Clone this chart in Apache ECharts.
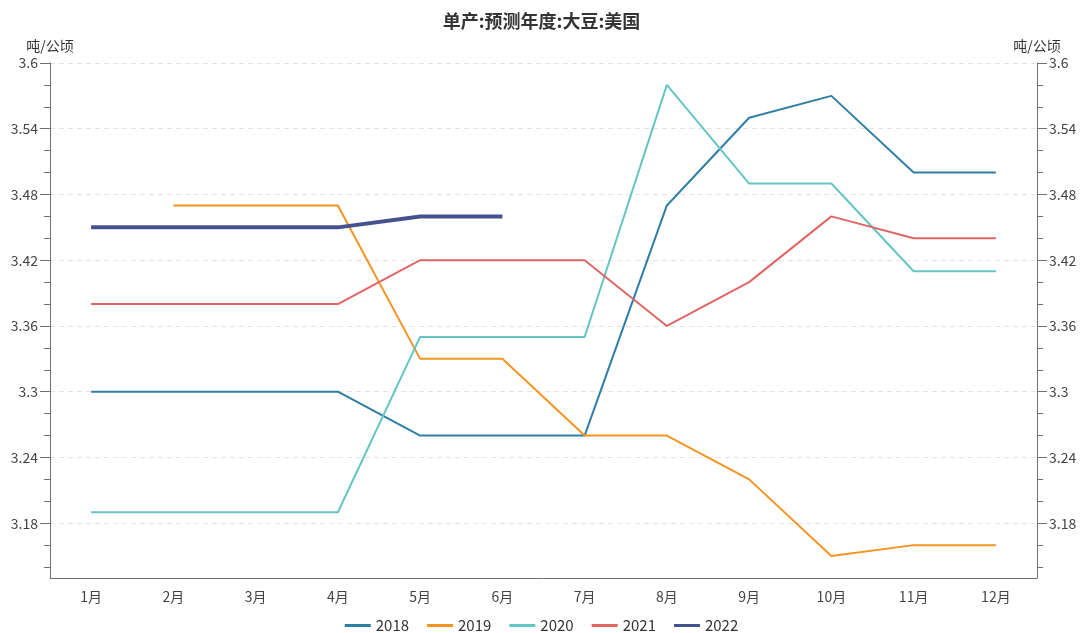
<!DOCTYPE html>
<html><head><meta charset="utf-8">
<script src="https://cdn.jsdelivr.net/npm/echarts@6/dist/echarts.min.js"></script>
<style>html,body{margin:0;padding:0;background:#fff;}#c{width:1083px;height:633px;}</style>
</head><body><div id="c"></div>
<script>
const categories = ['1月','2月','3月','4月','5月','6月','7月','8月','9月','10月','11月','12月'];
const s2018 = [3.30,3.30,3.30,3.30,3.26,3.26,3.26,3.47,3.55,3.57,3.50,3.50];
const s2019 = [null,3.47,3.47,3.47,3.33,3.33,3.26,3.26,3.22,3.15,3.16,3.16];
const s2020 = [3.19,3.19,3.19,3.19,3.35,3.35,3.35,3.58,3.49,3.49,3.41,3.41];
const s2021 = [3.38,3.38,3.38,3.38,3.42,3.42,3.42,3.36,3.40,3.46,3.44,3.44];
const s2022 = [3.45,3.45,3.45,3.45,3.46,3.46];
const labelTicks = [3.18,3.24,3.30,3.36,3.42,3.48,3.54,3.60];
const minorTicks = [3.14,3.16,3.18,3.20,3.22,3.24,3.26,3.28,3.30,3.32,3.34,3.36,3.38,3.40,3.42,3.44,3.46,3.48,3.50,3.52,3.54,3.56,3.58,3.60];
const yMin = 3.13, yMax = 3.6;
const unit = '吨/公顷';

const font = "'Noto Sans CJK SC','Noto Sans',sans-serif";
const axisColor = '#6e7079';
function minorAxis(pos){
  return {type:'value', position:pos, min:yMin, max:yMax,
    axisLine:{show:true, lineStyle:{color:axisColor}},
    axisTick:{show:true, length:6, customValues:minorTicks, lineStyle:{color:axisColor}},
    axisLabel:{show:false}, splitLine:{show:false}};
}
function majorAxis(pos, split){
  return {type:'value', position:pos, min:yMin, max:yMax,
    name:unit, nameGap:10,
    nameTextStyle:{color:'#333', fontSize:14, fontFamily:font, align:'center'},
    axisLine:{show:false},
    axisTick:{show:true, length:10, customValues:labelTicks, lineStyle:{color:axisColor}},
    axisLabel:{show:true, customValues:labelTicks, color:'#444', fontSize:14, fontFamily:font, margin:12},
    splitLine:{show:split, lineStyle:{color:'#e3e3e3', type:[5,4]}}};
}
const colors = ['#2e7ea6','#f39423','#63c5c4','#e06666','#44528f'];
const names = ['2018','2019','2020','2021','2022'];
const datas = [s2018,s2019,s2020,s2021,s2022];
const chart = echarts.init(document.getElementById('c'));
chart.setOption({
  animation:false,
  color:colors,
  title:{text:'单产:预测年度:大豆:美国', left:'center', top:7,
    textStyle:{fontSize:18, fontWeight:'bold', color:'#333', fontFamily:font}},
  legend:{bottom:0, padding:[0,5], icon:'rect', itemWidth:26, itemHeight:3, itemGap:18,
    textStyle:{fontSize:15, color:'#333', fontFamily:font},
    data:names},
  grid:{left:50, right:46, top:63, bottom:55},
  xAxis:{type:'category', data:categories, boundaryGap:true,
    axisLine:{lineStyle:{color:axisColor}},
    axisTick:{alignWithLabel:true, length:6, lineStyle:{color:axisColor}},
    axisLabel:{color:'#444', fontSize:14, fontFamily:font, margin:12}},
  yAxis:[minorAxis('left'), minorAxis('right'), majorAxis('left', true), majorAxis('right', false)],
  series: names.map((n,i)=>({
    name:n, type:'line', yAxisIndex:0, data:datas[i], symbol:'none',
    lineStyle:{width: i===4?4:2}
  }))
});
</script></body></html>
